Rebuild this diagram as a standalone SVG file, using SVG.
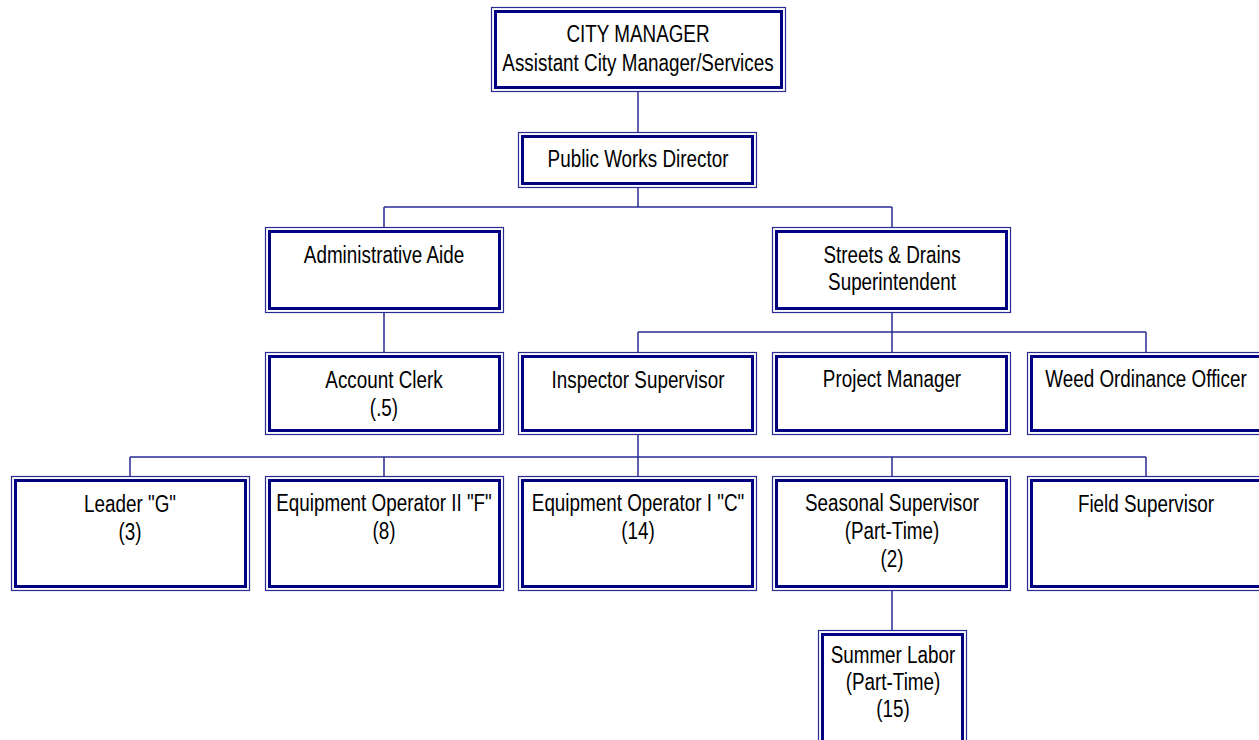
<svg xmlns="http://www.w3.org/2000/svg" width="1259" height="740" viewBox="0 0 1259 740">
<style>
.o{fill:#fff;stroke:#2b2b95;stroke-width:1.2}
.i{fill:none;stroke:#000080;stroke-width:3}
.c{fill:none;stroke:#2b2b95;stroke-width:1.5}
.t{font-family:"Liberation Sans",Arial,sans-serif;font-size:23px;fill:#000;text-anchor:middle}
</style>
<rect width="1259" height="740" fill="#fff"/>
<g id="connectors">
<path class="c" d="M638,91V132M638,187V207M384,207H892M384,207V227M892,207V227M384,312V352M892,312V332M638,332H1146M638,332V352M892,332V352M1146,332V352M638,434V457M130,457H1146M130,457V476M384,457V476M638,457V476M892,457V476M1146,457V476M892,590V630"/>
</g>
<g id="city-manager">
<rect class="o" x="491.5" y="7.5" width="294" height="84"/>
<rect class="i" x="495.5" y="11.5" width="286" height="76"/>
<text class="t" transform="translate(638,0) scale(0.82,1)"><tspan x="0" y="42">CITY MANAGER</tspan><tspan x="0" y="71">Assistant City Manager/Services</tspan></text>
</g>
<g id="public-works-director">
<rect class="o" x="518.5" y="132.5" width="238" height="55"/>
<rect class="i" x="522.5" y="136.5" width="230" height="47"/>
<text class="t" transform="translate(638,0) scale(0.82,1)"><tspan x="0" y="167">Public Works Director</tspan></text>
</g>
<g id="administrative-aide">
<rect class="o" x="265.5" y="227.5" width="238" height="85"/>
<rect class="i" x="269.5" y="231.5" width="230" height="77"/>
<text class="t" transform="translate(384,0) scale(0.82,1)"><tspan x="0" y="263">Administrative Aide</tspan></text>
</g>
<g id="streets-drains-superintendent">
<rect class="o" x="772.5" y="227.5" width="238" height="85"/>
<rect class="i" x="776.5" y="231.5" width="230" height="77"/>
<text class="t" transform="translate(892,0) scale(0.82,1)"><tspan x="0" y="263">Streets &amp; Drains</tspan><tspan x="0" y="290">Superintendent</tspan></text>
</g>
<g id="account-clerk">
<rect class="o" x="265.5" y="352.5" width="238" height="82"/>
<rect class="i" x="269.5" y="356.5" width="230" height="74"/>
<text class="t" transform="translate(384,0) scale(0.82,1)"><tspan x="0" y="388">Account Clerk</tspan><tspan x="0" y="416">(.5)</tspan></text>
</g>
<g id="inspector-supervisor">
<rect class="o" x="518.5" y="352.5" width="238" height="82"/>
<rect class="i" x="522.5" y="356.5" width="230" height="74"/>
<text class="t" transform="translate(638,0) scale(0.82,1)"><tspan x="0" y="388">Inspector Supervisor</tspan></text>
</g>
<g id="project-manager">
<rect class="o" x="772.5" y="352.5" width="238" height="82"/>
<rect class="i" x="776.5" y="356.5" width="230" height="74"/>
<text class="t" transform="translate(892,0) scale(0.82,1)"><tspan x="0" y="387">Project Manager</tspan></text>
</g>
<g id="weed-ordinance-officer">
<rect class="o" x="1027.5" y="352.5" width="238" height="82"/>
<rect class="i" x="1031.5" y="356.5" width="230" height="74"/>
<text class="t" transform="translate(1146,0) scale(0.82,1)"><tspan x="0" y="387">Weed Ordinance Officer</tspan></text>
</g>
<g id="leader-g">
<rect class="o" x="11.5" y="476.5" width="238" height="114"/>
<rect class="i" x="15.5" y="480.5" width="230" height="106"/>
<text class="t" transform="translate(130,0) scale(0.82,1)"><tspan x="0" y="512">Leader "G"</tspan><tspan x="0" y="540">(3)</tspan></text>
</g>
<g id="equipment-operator-ii">
<rect class="o" x="265.5" y="476.5" width="238" height="114"/>
<rect class="i" x="269.5" y="480.5" width="230" height="106"/>
<text class="t" transform="translate(384,0) scale(0.82,1)"><tspan x="0" y="511">Equipment Operator II "F"</tspan><tspan x="0" y="539">(8)</tspan></text>
</g>
<g id="equipment-operator-i">
<rect class="o" x="518.5" y="476.5" width="238" height="114"/>
<rect class="i" x="522.5" y="480.5" width="230" height="106"/>
<text class="t" transform="translate(638,0) scale(0.82,1)"><tspan x="0" y="511">Equipment Operator I "C"</tspan><tspan x="0" y="539">(14)</tspan></text>
</g>
<g id="seasonal-supervisor">
<rect class="o" x="772.5" y="476.5" width="238" height="114"/>
<rect class="i" x="776.5" y="480.5" width="230" height="106"/>
<text class="t" transform="translate(892,0) scale(0.82,1)"><tspan x="0" y="511">Seasonal Supervisor</tspan><tspan x="0" y="539">(Part-Time)</tspan><tspan x="0" y="567">(2)</tspan></text>
</g>
<g id="field-supervisor">
<rect class="o" x="1027.5" y="476.5" width="238" height="114"/>
<rect class="i" x="1031.5" y="480.5" width="230" height="106"/>
<text class="t" transform="translate(1146,0) scale(0.82,1)"><tspan x="0" y="512">Field Supervisor</tspan></text>
</g>
<g id="summer-labor">
<rect class="o" x="818.5" y="630.5" width="148" height="130"/>
<rect class="i" x="822.5" y="634.5" width="140" height="122"/>
<text class="t" transform="translate(893,0) scale(0.82,1)"><tspan x="0" y="663">Summer Labor</tspan><tspan x="0" y="690">(Part-Time)</tspan><tspan x="0" y="717">(15)</tspan></text>
</g>
</svg>
